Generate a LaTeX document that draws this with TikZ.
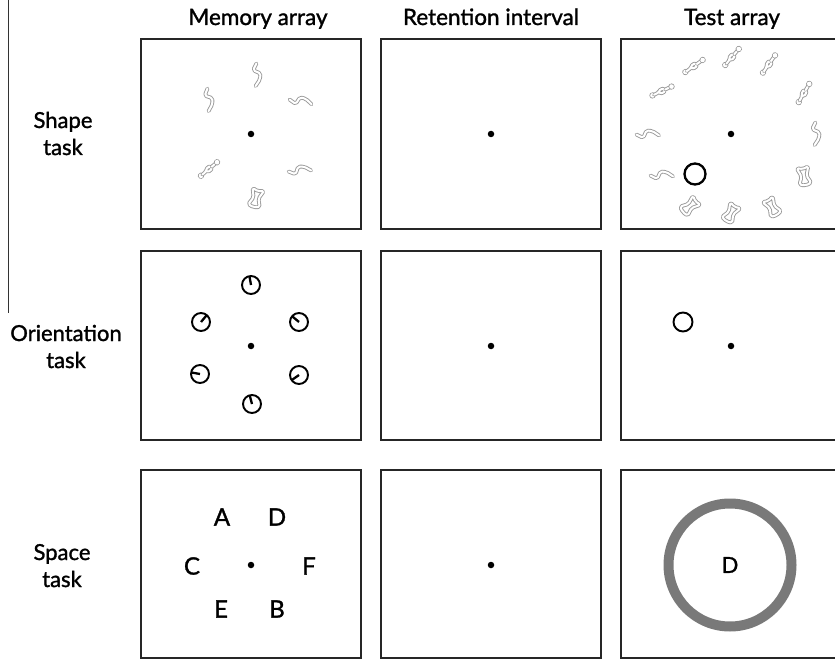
\documentclass[tikz,border=0pt]{standalone}
\usepackage{fontspec}
\setmainfont[FakeBold=1.3]{Lato}
\usetikzlibrary{calc}
\tikzset{
  panel/.style={draw=black!85, line width=2pt},
  fixdot/.style={circle, fill=black, inner sep=0pt, minimum size=6.5pt},
  head/.style={font=\fontsize{22.5}{27}\selectfont, anchor=base, inner sep=0pt},
  rowlbl/.style={font=\fontsize{22}{27}\selectfont, anchor=base, inner sep=0pt},
  letter/.style={font=\fontsize{24}{28}\selectfont, inner sep=0pt},
  sq/.style={draw=gray!80, double=white, double distance=2pt, line width=0.9pt,
             line cap=round, line join=round, rounded corners=1.8pt},
  dial/.style={circle, draw=black, line width=1.9pt, minimum size=18pt, inner sep=0pt},
  needle/.style={line width=2.3pt},
  pics/sshape/.style={code={
    \draw[sq] (-3.5,-11) -- (-5,-3.5) -- (3,-2.5) -- (4,3.5) -- (1.5,11);
  }},
  pics/chain/.style={code={
    \draw[sq] (-10.5,0) circle (1.5);
    \draw[sq] (-8.8,0) -- (-3.5,0) -- (0,-3) -- (3.5,0) -- (0,3) -- (-3.5,0);
    \draw[sq] (3.5,0) -- (8.8,0);
    \draw[sq] (10.5,0) circle (1.5);
  }},
  pics/hglass/.style={code={
    \draw[sq] (-6,-9) -- (0,-7) -- (6,-9) -- (2.5,0) -- (6,8) -- (0,9.5) -- (-6,8) -- (-2.5,0) -- cycle;
  }},
}
\begin{document}
\begin{tikzpicture}[x=1pt,y=-1pt]
\useasboundingbox (0,0) rectangle (835,660);
\clip (0,0) rectangle (835,660);

% left rule
\draw[black!80, line width=0.8pt] (8,0) -- (8,313);

% column headers
\node[head] (hmem) at (258,25) {Memory array};
\node[head] (hret) at (491,25) {Retention interval};
\node[head] (htest) at (732,25) {Test array};

% row labels
\node[rowlbl] (shape1) at (63,128) {Shape};
\node[rowlbl] (shape2) at (63,155) {task};
\node[rowlbl] (ori1) at (66,341) {Orientation};
\node[rowlbl] (ori2) at (66,368) {task};
\node[rowlbl] (spa1) at (62,560) {Space};
\node[rowlbl] (spa2) at (62,587) {task};

% panels
\foreach \x/\xx in {141/361, 381/601, 621/845}{
  \draw[panel] (\x,39) rectangle (\xx,229);
  \draw[panel] (\x,251) rectangle (\xx,440);
  \draw[panel] (\x,470) rectangle (\xx,658);
}

% fixation dots
\foreach \cx/\cy in {251/134, 491/134, 731/134, 251/346, 491/346, 731/346, 251/565, 491/565}{
  \node[fixdot] at (\cx,\cy) {};
}

% ---- Shape task, memory array
\pic[rotate=-15] at (257,75) {sshape};
\pic[rotate=-10] at (209,100) {sshape};
\pic[rotate=65] at (301,101) {sshape};
\pic[rotate=40] at (209,169) {chain};
\pic[rotate=80] at (300,170) {sshape};
\pic[rotate=-15] at (256,198) {hglass};

% ---- Shape task, test array
\pic[rotate=35] at (694,66) {chain};
\pic[rotate=50] at (732,57) {chain};
\pic[rotate=55] at (769,64) {chain};
\pic[rotate=25] at (662,91) {chain};
\pic[rotate=60] at (804,93) {chain};
\pic[rotate=75] at (648,134) {sshape};
\pic[rotate=-15] at (816,134) {sshape};
\pic[rotate=75] at (662,175) {sshape};
\pic[rotate=10] at (804,176) {hglass};
\pic[rotate=-50] at (690,206) {hglass};
\pic[rotate=-30] at (731,213) {hglass};
\pic[rotate=30] at (772,207) {hglass};
\node[circle, draw=black, line width=2.3pt, minimum size=21pt, inner sep=0pt] (probe1) at (695,174) {};

% ---- Orientation task, memory array
\foreach \n/\px/\py/\ang in {o1/251/285/100, o2/201/322/50, o3/299/322/140, o4/200/374/170, o5/299/375/215, o6/252/404/105}{
  \node[dial] (\n) at (\px,\py) {};
  \draw[needle] (\n.center) -- ($(\n.center)+(-\ang:9)$);
}

% ---- Orientation task, test array
\node[circle, draw=black, line width=1.9pt, minimum size=19pt, inner sep=0pt] (probe2) at (683,322) {};

% ---- Space task, memory array
\node[letter] (la) at (222,517) {A};
\node[letter] (ld) at (277,517) {D};
\node[letter] (lc) at (192,566) {C};
\node[letter] (lf) at (309,566) {F};
\node[letter] (le) at (221,609) {E};
\node[letter] (lb) at (277,609) {B};

% ---- Space task, test array
\node[circle, draw=gray!95!black, line width=10pt, minimum size=123pt, inner sep=0pt] (ring) at (730,565) {};
\node[font=\fontsize{22}{26}\selectfont, inner sep=0pt] (ld2) at (730,565) {D};
\end{tikzpicture}
\end{document}
